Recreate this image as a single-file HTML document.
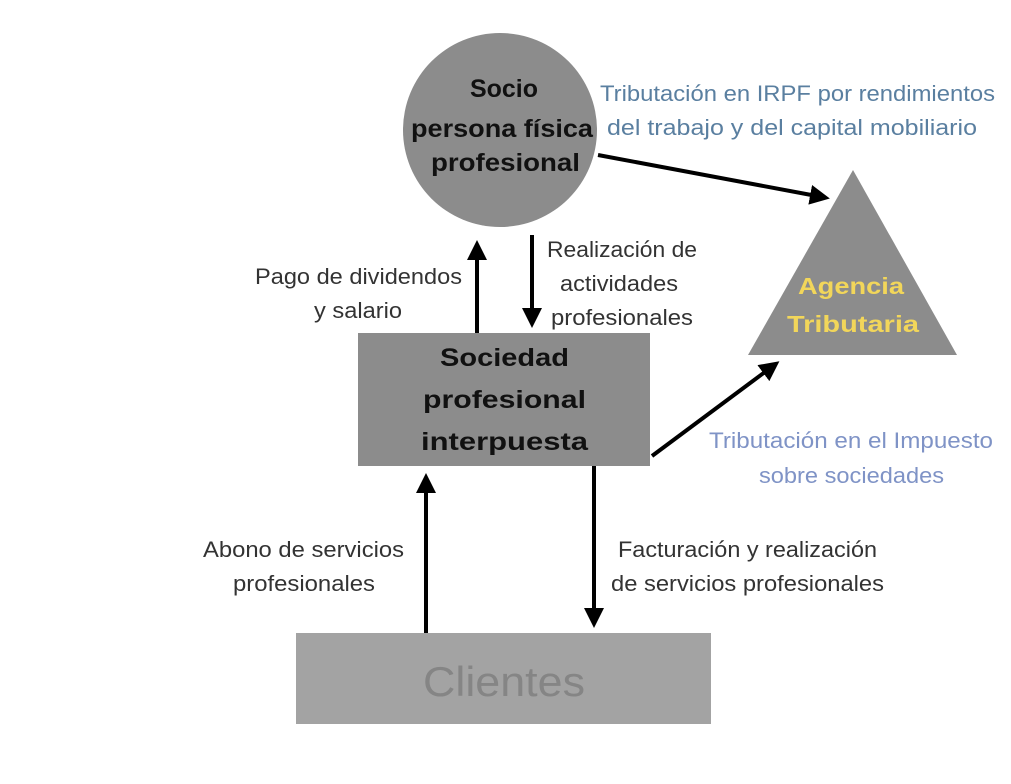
<!DOCTYPE html>
<html><head><meta charset="utf-8"><style>
body{margin:0;background:#fff;}
svg text{font-family:"Liberation Sans",sans-serif;}
</style></head><body>
<svg width="1011" height="779" viewBox="0 0 1011 779" xmlns="http://www.w3.org/2000/svg">
<defs><marker id="a" markerWidth="6" markerHeight="6" refX="3" refY="3" orient="auto" markerUnits="strokeWidth"><path d="M0,0.5 L5,3 L0,5.5 z" fill="#000"/></marker></defs>
<rect width="1011" height="779" fill="#fff"/>
<circle cx="500" cy="130" r="97" fill="#8c8c8c"/>
<polygon points="853,170 748,355 957,355" fill="#8c8c8c"/>
<rect x="358" y="333" width="292" height="133" fill="#8c8c8c"/>
<rect x="296" y="633" width="415" height="91" fill="#a3a3a3"/>
<g stroke="#000" stroke-width="4" fill="none" marker-end="url(#a)">
<line x1="598" y1="155" x2="822" y2="197"/>
<line x1="477" y1="333" x2="477" y2="248"/>
<line x1="532" y1="235" x2="532" y2="320"/>
<line x1="652" y1="456" x2="773" y2="366"/>
<line x1="426" y1="633" x2="426" y2="481"/>
<line x1="594" y1="466" x2="594" y2="620"/>
</g>
<g font-weight="bold" font-size="25" fill="#111" lengthAdjust="spacingAndGlyphs">
<text x="470" y="97" textLength="68" lengthAdjust="spacingAndGlyphs">Socio</text>
<text x="411" y="137" textLength="182" lengthAdjust="spacingAndGlyphs">persona física</text>
<text x="431" y="171" textLength="149" lengthAdjust="spacingAndGlyphs">profesional</text>
<text x="440" y="366" textLength="129" lengthAdjust="spacingAndGlyphs">Sociedad</text>
<text x="423" y="408" textLength="163" lengthAdjust="spacingAndGlyphs">profesional</text>
<text x="421" y="450" textLength="167" lengthAdjust="spacingAndGlyphs">interpuesta</text>
</g>
<g font-weight="bold" font-size="23" fill="#f2d65a">
<text x="798" y="294" textLength="106" lengthAdjust="spacingAndGlyphs">Agencia</text>
<text x="787" y="332" textLength="132" lengthAdjust="spacingAndGlyphs">Tributaria</text>
</g>
<text x="423" y="696" font-size="42" fill="#858585" textLength="162" lengthAdjust="spacingAndGlyphs">Clientes</text>
<g font-size="22" fill="#5a7fa0">
<text x="600" y="101" textLength="395" lengthAdjust="spacingAndGlyphs">Tributación en IRPF por rendimientos</text>
<text x="607" y="135" textLength="370" lengthAdjust="spacingAndGlyphs">del trabajo y del capital mobiliario</text>
</g>
<g font-size="22" fill="#7f93c6">
<text x="709" y="448" textLength="284" lengthAdjust="spacingAndGlyphs">Tributación en el Impuesto</text>
<text x="759" y="483" textLength="185" lengthAdjust="spacingAndGlyphs">sobre sociedades</text>
</g>
<g font-size="22" fill="#333">
<text x="255" y="284" textLength="207" lengthAdjust="spacingAndGlyphs">Pago de dividendos</text>
<text x="314" y="318" textLength="88" lengthAdjust="spacingAndGlyphs">y salario</text>
<text x="547" y="257" textLength="150" lengthAdjust="spacingAndGlyphs">Realización de</text>
<text x="560" y="291" textLength="118" lengthAdjust="spacingAndGlyphs">actividades</text>
<text x="551" y="325" textLength="142" lengthAdjust="spacingAndGlyphs">profesionales</text>
<text x="203" y="557" textLength="201" lengthAdjust="spacingAndGlyphs">Abono de servicios</text>
<text x="233" y="591" textLength="142" lengthAdjust="spacingAndGlyphs">profesionales</text>
<text x="618" y="557" textLength="259" lengthAdjust="spacingAndGlyphs">Facturación y realización</text>
<text x="611" y="591" textLength="273" lengthAdjust="spacingAndGlyphs">de servicios profesionales</text>
</g>
</svg>
</body></html>
